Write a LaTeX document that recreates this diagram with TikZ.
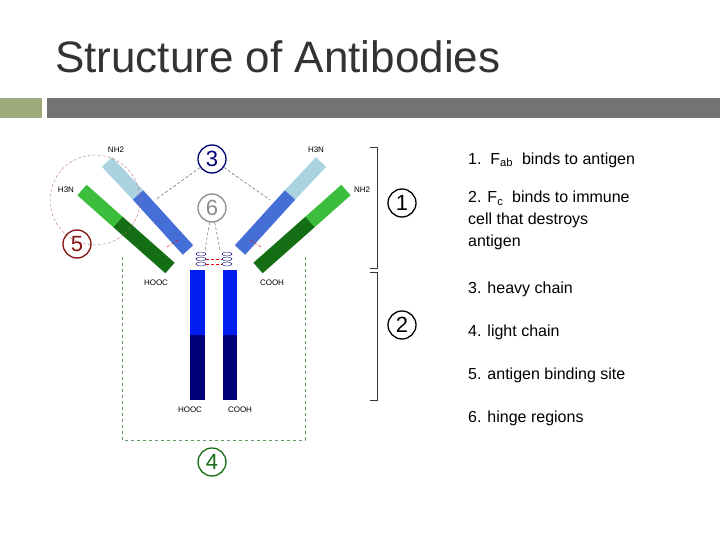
\documentclass[tikz,border=0pt]{standalone}
\usepackage{fontspec}
\setmainfont{Liberation Sans}
\usetikzlibrary{positioning}
\definecolor{lblue}{RGB}{170,210,225}
\definecolor{mblue}{RGB}{70,110,215}
\definecolor{sblue}{RGB}{0,30,240}
\definecolor{dnavy}{RGB}{0,0,120}
\definecolor{lgreen}{RGB}{60,190,60}
\definecolor{dgreen}{RGB}{20,110,20}
\definecolor{olive}{RGB}{155,170,120}
\definecolor{dred}{RGB}{130,20,20}
\begin{document}
\begin{tikzpicture}[x=1pt,y=-1pt,
    num node/.style={circle,draw,line width=1.3pt,inner sep=1pt,minimum size=28pt,font=\fontsize{22}{22}\selectfont},
    item node/.style={anchor=west,font=\fontsize{16}{22}\selectfont,inner sep=0pt,align=left},
    end node/.style={font=\fontsize{8}{8}\selectfont,inner sep=0pt},
    arm/.style={line width=14pt}]
    \useasboundingbox (0,0) rectangle (720,540);
    \node[anchor=base west,inner sep=0pt,font=\fontsize{44}{44}\selectfont,text=black!80] (title) at (55,73) {Structure of Antibodies};
    \fill[olive] (0,98) rectangle (42,118);
    \fill[black!55] (47,98) rectangle (720,118);

    % light chains and heavy chain arms
    \draw[arm,lgreen] (82,190) -- (118,222);
    \draw[arm,dgreen] (118,222) -- (170,268);
    \draw[arm,lgreen] (346,190) -- (310,222);
    \draw[arm,dgreen] (310,222) -- (258,268);
    \draw[arm,lblue] (107,162) -- (138,195);
    \draw[arm,mblue] (138,195) -- (188,250);
    \draw[arm,lblue] (321,162) -- (290,195);
    \draw[arm,mblue] (290,195) -- (240,250);
    % stems
    \fill[sblue] (190,270) rectangle (205,335);
    \fill[dnavy] (190,335) rectangle (205,400);
    \fill[sblue] (223,270) rectangle (237,335);
    \fill[dnavy] (223,335) rectangle (237,400);
    % hinges
    \foreach \y in {254,259,264} {
        \draw[dnavy] (201,\y) ellipse (5pt and 2pt);
        \draw[dnavy] (227,\y) ellipse (5pt and 2pt);
    }
    \draw[red,densely dashed] (206,259) -- (222,259) (206,264) -- (222,264);
    \draw[red,densely dashed] (167,247) -- (178,240) (261,247) -- (250,240);

    \node[end node] (nl) at (116,150) {NH2};
    \node[end node] (hl) at (66,190) {H3N};
    \node[end node] (hr) at (316,150) {H3N};
    \node[end node] (nr) at (362,190) {NH2};
    \node[end node] (cl) at (156,283) {HOOC};
    \node[end node] (cr) at (272,283) {COOH};
    \node[end node] (cbl) at (190,410) {HOOC};
    \node[end node] (cbr) at (240,410) {COOH};

    \draw[dred!60,densely dashed] (95,200) circle (45pt);
    \draw[dgreen!70,dashed] (122,257) -- (122,440) -- (305,440) -- (305,257);

    \node[num node,draw=dnavy,text=dnavy] (n3) at (212,159) {3};
    \node[num node,draw=black!45,text=black!45] (n6) at (212,208) {6};
    \node[num node] (n1) at (402,203) {1};
    \node[num node] (n2) at (402,325) {2};
    \node[num node,draw=dred,text=dred] (n5) at (77,244) {5};
    \node[num node,draw=dgreen,text=dgreen] (n4) at (212,462) {4};
    \coordinate (h3l) at (155,200);
    \coordinate (h3r) at (270,200);
    \coordinate (h6l) at (205,250);
    \coordinate (h6r) at (220,250);
    \draw[black!70,densely dashed] (n3) -- (h3l) (n3) -- (h3r);
    \draw[black!70,densely dashed] (n6) -- (h6l) (n6) -- (h6r);

    % brackets
    \draw[black!80] (370,147) -- (377,147) -- (377,268) -- (370,268);
    \draw[black!80] (370,272) -- (377,272) -- (377,400) -- (370,400);

    \node[item node] (i1) at (468,160) {1.\ \ F\textsubscript{ab}\ \ binds to antigen};
    \node[item node,anchor=north west] (i2) at (468,191) {2. F\textsubscript{c}\ \ binds to immune\\cell that destroys\\antigen};
    \node[item node] (i3) at (468,289) {3. heavy chain};
    \node[item node] (i4) at (468,332) {4. light chain};
    \node[item node] (i5) at (468,375) {5. antigen binding site};
    \node[item node] (i6) at (468,418) {6. hinge regions};
\end{tikzpicture}
\end{document}
